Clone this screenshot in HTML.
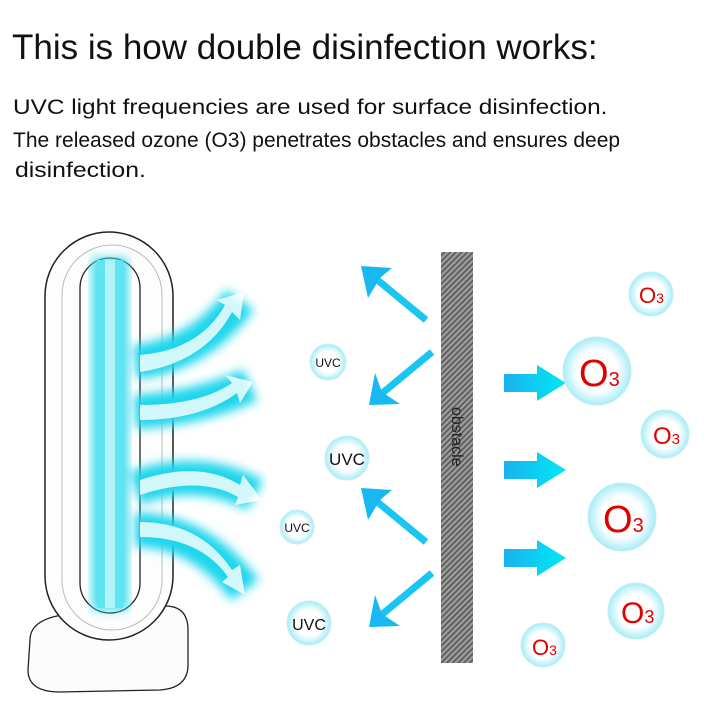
<!DOCTYPE html>
<html><head><meta charset="utf-8"><style>
body{margin:0;background:#fff;width:720px;height:720px;overflow:hidden;font-family:"Liberation Sans",sans-serif;position:relative}
.t{position:absolute;left:12px;top:28px;font-size:35px;color:#111;white-space:nowrap}
.p{position:absolute;left:13px;font-size:21px;color:#111;white-space:nowrap;transform-origin:0 0}
</style></head><body>
<div class="t">This is how double disinfection works:</div>
<div class="p" style="top:96px;transform:scaleX(1.16)">UVC light frequencies are used for surface disinfection.</div>
<div class="p" style="top:129px;transform:scaleX(1.0)">The released ozone (O3) penetrates obstacles and ensures deep</div>
<div class="p" style="top:159px;left:15px;transform:scaleX(1.18)">disinfection.</div>
<svg width="720" height="720" style="position:absolute;left:0;top:0">
<defs>
<radialGradient id="bub" cx="50%" cy="50%" r="50%"><stop offset="60%" stop-color="#fff"/><stop offset="100%" stop-color="#a8ecf6"/></radialGradient>
<linearGradient id="blk" x1="0" x2="1"><stop offset="0" stop-color="#1ab2ee"/><stop offset="1" stop-color="#00e8f4"/></linearGradient>
<pattern id="hat" width="4" height="4" patternUnits="userSpaceOnUse" patternTransform="rotate(45)"><rect width="4" height="4" fill="#9a9a9a"/><rect width="1.5" height="4" fill="#555"/></pattern>
<filter id="gl"><feGaussianBlur stdDeviation="5"/></filter>
</defs>
<path d="M30 640 Q30 618 70 614 L165 606 Q188 606 188 630 L188 665 Q188 688 160 690 L60 692 Q28 692 28 670 Z" fill="#fcfcfc" stroke="#222" stroke-width="1.3"/>
<rect x="45" y="232" width="128" height="408" rx="64" fill="#fdfdfd" stroke="#222" stroke-width="1.5"/>
<rect x="62" y="245" width="100" height="385" rx="50" fill="none" stroke="#bbb" stroke-width="1"/>
<rect x="80" y="258" width="60" height="355" rx="30" fill="#fff" stroke="#222" stroke-width="1.3"/>
<rect x="92" y="258" width="36" height="352" fill="#3fdcef" filter="url(#gl)"/>
<rect x="97" y="260" width="26" height="348" fill="#5fe4f2"/>
<rect x="105" y="260" width="10" height="348" fill="#b0f4fa"/>
<g stroke="#1fd6ec" stroke-width="34" fill="none" filter="url(#gl)">
<path d="M135 362 Q200 355 240 300"/><path d="M135 412 Q200 408 250 385"/><path d="M135 488 Q200 465 255 495"/><path d="M135 530 Q200 530 245 590"/>
</g>
<g fill="#fff">
<path d="M140 355 Q200 350 225 305 L217 300 L244 292 L240 320 L232 312 Q205 362 140 372Z" opacity=".8"/>
<path d="M140 405 Q200 405 232 383 L225 375 L253 382 L240 403 L237 393 Q200 420 140 420Z" opacity=".8"/>
<path d="M140 480 Q200 460 240 485 L243 475 L262 500 L235 505 L238 497 Q200 475 140 495Z" opacity=".8"/>
<path d="M140 522 Q200 522 232 570 L240 565 L245 595 L222 582 L228 577 Q200 537 140 537Z" opacity=".8"/>
</g>
<rect x="441" y="252" width="32" height="411" fill="url(#hat)"/>
<text transform="translate(452,407) rotate(90)" font-size="16" fill="#222" font-family="Liberation Sans">obstacle</text>
<g stroke="#19c6f0" stroke-width="7" fill="#19c6f0">
<line x1="426" y1="320" x2="375" y2="278"/><line x1="432" y1="352" x2="380" y2="395"/>
<line x1="426" y1="542" x2="375" y2="500"/><line x1="432" y1="573" x2="380" y2="616"/>
</g>
<g fill="#19b8f0">
<path d="M361 266 L392 268 L380 278 L368 298Z"/><path d="M369 405 L375 373 L382 392 L400 404Z"/>
<path d="M361 488 L392 490 L380 500 L368 520Z"/><path d="M369 627 L375 595 L382 614 L400 626Z"/>
</g>
<g fill="url(#blk)">
<path d="M504 374 L537 374 L537 365 L566 383 L537 401 L537 392 L504 392Z"/>
<path d="M504 461 L537 461 L537 452 L566 470 L537 488 L537 479 L504 479Z"/>
<path d="M504 549 L537 549 L537 540 L566 558 L537 576 L537 567 L504 567Z"/>
</g>
<g fill="url(#bub)" stroke="#c0f0f8" stroke-width="1">
<circle cx="328" cy="362" r="18"/><circle cx="347" cy="458" r="22"/><circle cx="297" cy="527" r="17"/><circle cx="309" cy="623" r="22"/>
<circle cx="651" cy="294" r="22"/><circle cx="597" cy="371" r="34"/><circle cx="665" cy="434" r="24"/><circle cx="622" cy="517" r="34"/><circle cx="636" cy="611" r="28"/><circle cx="543" cy="645" r="22"/>
</g>
<g font-family="Liberation Sans" fill="#111" text-anchor="middle">
<text x="328" y="367" font-size="12">UVC</text><text x="347" y="465" font-size="17">UVC</text>
<text x="297" y="532" font-size="12">UVC</text><text x="309" y="630" font-size="16">UVC</text>
</g>
<g font-family="Liberation Sans" fill="#e00000">
<text x="639" y="303" font-size="22">O<tspan font-size="14">3</tspan></text>
<text x="579" y="386" font-size="38">O<tspan font-size="20">3</tspan></text>
<text x="653" y="444" font-size="24">O<tspan font-size="15">3</tspan></text>
<text x="603" y="532" font-size="38">O<tspan font-size="20">3</tspan></text>
<text x="621" y="623" font-size="30">O<tspan font-size="18">3</tspan></text>
<text x="532" y="655" font-size="22">O<tspan font-size="14">3</tspan></text>
</g>
</svg>
</body></html>
